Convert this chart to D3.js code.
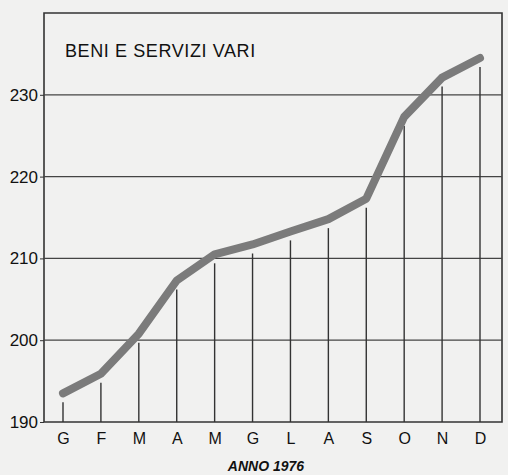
<!DOCTYPE html>
<html lang="it">
<head>
<meta charset="UTF-8">
<title>Beni e servizi vari - anno 1976</title>
<style>
  body { margin: 0; background: #f1f1f0; }
  svg { display: block; font-family: "Liberation Sans", Arial, sans-serif; }
</style>
</head>
<body>
<script src="https://d3js.org/d3.v7.min.js"></script>
<script>
// mesi e valori (indice)
const months = ['G', 'F', 'M', 'A', 'M', 'G', 'L', 'A', 'S', 'O', 'N', 'D'];
const values = [193.5, 195.9, 200.8, 207.3, 210.5, 211.7, 213.3, 214.8, 217.3, 227.3, 232.1, 234.5];
const yTicks = [190, 200, 210, 220, 230];
const title = 'BENI E SERVIZI VARI';
const xTitle = 'ANNO 1976';

const svgWidth = 508, svgHeight = 475;
const frame = { left: 44, right: 502, top: 13, bottom: 422 };

const svg = d3.select('body').append('svg')
  .attr('width', svgWidth)
  .attr('height', svgHeight);

// scale
const xScale = d3.scalePoint()
  .domain(d3.range(months.length))
  .range([63, 480]);

const yScale = d3.scaleLinear()
  .domain([190, 240])
  .range([frame.bottom, frame.bottom - 50 * 8.18]);

// cornice
svg.append('path')
  .attr('d', `M${frame.left},${frame.bottom} V${frame.top} H${frame.right} V${frame.bottom} Z`)
  .attr('fill', 'none')
  .attr('stroke', '#333')
  .attr('stroke-width', 1.6);

// griglia orizzontale
svg.append('g').selectAll('line')
  .data(yTicks.filter(d => d > 190))
  .join('line')
  .attr('x1', frame.left)
  .attr('x2', frame.right)
  .attr('y1', d => yScale(d))
  .attr('y2', d => yScale(d))
  .attr('stroke', '#444')
  .attr('stroke-width', 1.3);

// linee verticali fino alla curva
svg.append('g').selectAll('line')
  .data(values)
  .join('line')
  .attr('x1', (d, i) => xScale(i))
  .attr('x2', (d, i) => xScale(i))
  .attr('y1', frame.bottom)
  .attr('y2', d => yScale(d) + 9)
  .attr('stroke', '#333')
  .attr('stroke-width', 1.4);

// asse y (solo etichette)
const yAxis = svg.append('g')
  .attr('transform', `translate(${frame.left},0)`)
  .call(d3.axisLeft(yScale).tickValues(yTicks).tickSize(4).tickFormat(d3.format('d')));
yAxis.select('.domain').remove();
yAxis.selectAll('.tick line').attr('stroke', '#333');
yAxis.selectAll('text')
  .attr('x', -6)
  .attr('fill', '#111')
  .style('font-size', '17px');

// asse x (mesi)
const xAxis = svg.append('g')
  .attr('transform', `translate(0,${frame.bottom})`)
  .call(d3.axisBottom(xScale).tickSize(0).tickFormat(i => months[i]));
xAxis.select('.domain').remove();
xAxis.selectAll('text')
  .attr('y', 11)
  .attr('dy', '0.71em')
  .attr('fill', '#111')
  .style('font-size', '16px');

// curva
const line = d3.line()
  .x((d, i) => xScale(i))
  .y(d => yScale(d));

svg.append('path')
  .datum(values)
  .attr('d', line)
  .attr('fill', 'none')
  .attr('stroke', '#7b7b7b')
  .attr('stroke-width', 8)
  .attr('stroke-linejoin', 'round')
  .attr('stroke-linecap', 'round');

// titolo
svg.append('text')
  .attr('x', 65)
  .attr('y', 57)
  .attr('fill', '#111')
  .style('font-size', '18px')
  .style('letter-spacing', '0.6px')
  .text(title);

// titolo asse x
svg.append('text')
  .attr('x', 266)
  .attr('y', 471)
  .attr('text-anchor', 'middle')
  .attr('fill', '#111')
  .style('font-size', '14px')
  .style('font-weight', 'bold')
  .style('font-style', 'italic')
  .text(xTitle);
</script>
</body>
</html>
